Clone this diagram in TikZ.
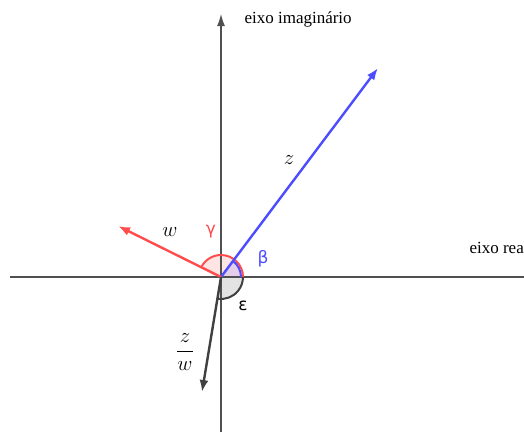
\documentclass[tikz,border=0pt]{standalone}
\usepackage{fontspec}
\setmainfont{Liberation Serif}
\newfontfamily\greekfont{DejaVu Sans}
\usetikzlibrary{arrows.meta}
\definecolor{vblue}{HTML}{4D4DFF}
\definecolor{vred}{HTML}{FF4D4D}
\definecolor{vgray}{HTML}{404040}
\definecolor{axgray}{HTML}{505050}
\begin{document}
\begin{tikzpicture}[x=1pt,y=-1pt,
  axis/.style={draw=axgray,line width=1.3pt},
  vec/.style={line width=2.4pt,-{Latex[length=12pt,width=9pt]}},
  lbl/.style={font=\fontsize{17}{20}\selectfont},
  mlbl/.style={font=\fontsize{22}{26}\selectfont},
  glbl/.style={font=\greekfont\fontsize{17}{20}\selectfont}]
\useasboundingbox (0,0) rectangle (524,432);
\clip (0,0) rectangle (524,432);
\coordinate (O) at (221,277);
\coordinate (L) at (10,277);
\coordinate (R) at (530,277);
\coordinate (B) at (221,432);
\coordinate (T) at (221,14);
% angle arcs
\fill[vred,fill opacity=0.15] (O) -- ++(22,0) arc[start angle=0,end angle=-153.7,radius=22] -- cycle;
\fill[vgray,fill opacity=0.15] (O) -- ++(-3.6,21.7) arc[start angle=99.4,end angle=0,radius=22] -- cycle;
\fill[vblue,fill opacity=0.15] (O) -- ++(20,0) arc[start angle=0,end angle=-53.1,radius=20] -- cycle;
% axes
\draw[axis] (L) -- (R);
\draw[axis,-{Latex[length=12pt,width=8pt]}] (B) -- (T);
% arc outlines
\draw[vred,line width=2pt] (O) ++(22,0) arc[start angle=0,end angle=-153.7,radius=22];
\draw[vgray,line width=2pt] (O) ++(-3.6,21.7) arc[start angle=99.4,end angle=0,radius=22];
\draw[vblue,line width=2pt] (O) ++(20,0) arc[start angle=0,end angle=-53.1,radius=20];
% vectors
\coordinate (Z) at (378,68);
\coordinate (W) at (118,226);
\coordinate (ZW) at (202,392);
\draw[vec,vblue] (O) -- (Z);
\draw[vec,vred] (O) -- (W);
\draw[vec,vgray] (O) -- (ZW);
% labels
\node[lbl,anchor=west] (im) at (241,19) {eixo imaginário};
\node[lbl,anchor=west] (re) at (466,248) {eixo rea};
\node[mlbl] (zl) at (289,160) {$z$};
\node[mlbl] (wl) at (170,232) {$w$};
\node[mlbl] (zwl) at (185,352) {$\displaystyle\frac{z}{w}$};
\node[glbl,text=vred] (gl) at (211,232) {γ};
\node[glbl,text=vblue] (bl) at (263,259) {β};
\node[glbl,text=black] (el) at (243,306) {ε};
\end{tikzpicture}
\end{document}
